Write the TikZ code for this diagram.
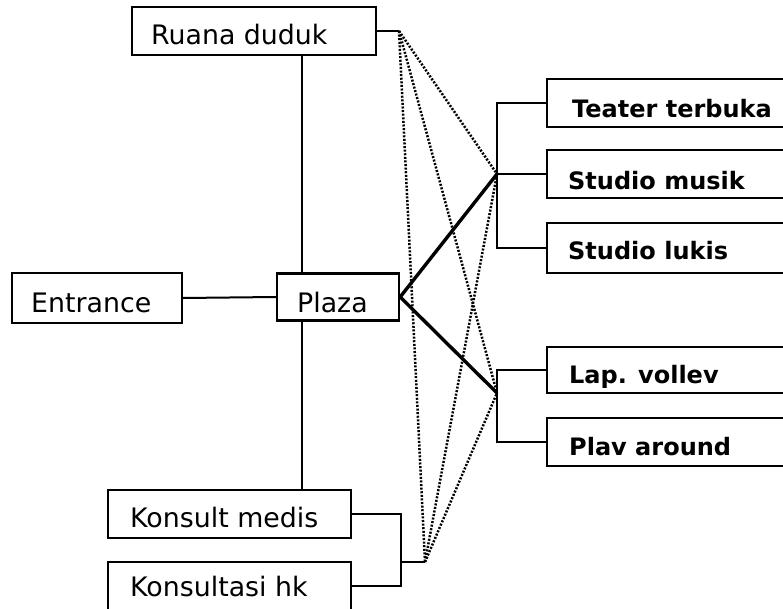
\documentclass[tikz,border=0pt]{standalone}
\usepackage{fontspec}
\setmainfont{DejaVu Sans}
\newfontfamily\boldlabel{DejaVu Sans Bold}
\begin{document}
\begin{tikzpicture}[x=1pt,y=-1pt,
  box/.style={draw=black, line width=2.3pt, rectangle, inner sep=0pt},
  rbox/.style={draw=black, line width=2.9pt, rectangle, inner sep=0pt},
  ltext/.style={anchor=base west, inner sep=0pt, font=\fontsize{26.8}{30}\selectfont},
  rtext/.style={anchor=base west, inner sep=0pt, font=\boldlabel\fontsize{24}{28}\selectfont},
  link/.style={draw=black, line width=2pt},
  rlink/.style={draw=black, line width=2.7pt},
  spoke/.style={draw=black, line width=3.4pt},
  dots/.style={draw=black, line width=2.5pt, dash pattern=on 2pt off 1.6pt}]
\clip (0,0) rectangle (783,609);
\fill[white] (0,0) rectangle (783,609);

% left column of spaces
\node[box, minimum width=244pt, minimum height=48pt] (ruang) at (254,31) {};
\node[ltext] (ruangT) at (151,45) {Ruana duduk};
\node[box, minimum width=170pt, minimum height=50pt] (entr) at (97,298) {};
\node[ltext] (entrT) at (31,312) {Entrance};
\node[box, minimum width=122pt, minimum height=47pt] (plaza) at (338,297) {};
\node[ltext] (plazaT) at (297,312) {Plaza};
\node[box, minimum width=243pt, minimum height=48pt] (medis) at (229.5,514) {};
\node[ltext] (medisT) at (130,527) {Konsult medis};
\node[box, minimum width=243pt, minimum height=48pt] (hukum) at (229.5,586) {};
\node[ltext] (hukumT) at (130,596) {Konsultasi hk};

% right column of spaces (boxes run past the right edge)
\node[rbox, minimum width=260pt, minimum height=48pt] (teater) at (677,103) {};
\node[rtext] (teaterT) at (572,118) {Teater terbuka};
\node[rbox, minimum width=260pt, minimum height=48pt] (musik) at (677,174) {};
\node[rtext] (musikT) at (568,190) {Studio musik};
\node[rbox, minimum width=260pt, minimum height=50pt] (lukis) at (677,248) {};
\node[rtext] (lukisT) at (568,260) {Studio lukis};
\node[rbox, minimum width=260pt, minimum height=46pt] (volley) at (677,370) {};
\node[rtext] (volleyT) at (569,383) {Lap. vollev};
\node[rbox, minimum width=260pt, minimum height=48pt] (play) at (677,442) {};
\node[rtext] (playT) at (569,455) {Plav around};

% junction points
\coordinate (spine) at (302,0);
\coordinate (A) at (399,31);
\coordinate (B) at (497,174);
\coordinate (C) at (497,393);
\coordinate (kj) at (401,562);
\coordinate (D) at (425,562);
\coordinate (tb) at (497,0);

% central spine
\draw[link] (ruang.south -| spine) -- (plaza.north -| spine);
\draw[link] (plaza.south -| spine) -- (medis.north -| spine);
\draw[link] (entr.east) -- (plaza.west);
\draw[link] (ruang.east) -- (A);

% bracket joining the two consultation rooms
\draw[link] (medis.east) -| (kj) |- (hukum.east);
\draw[link] (kj) -- (D);

% brackets of the right-hand groups
\draw[rlink] (teater.west) -| (tb |- lukis.west) -- (lukis.west);
\draw[rlink] (B) -- (musik.west);
\draw[rlink] (volley.west) -| (tb |- play.west) -- (play.west);

% main paths out of the plaza
\draw[spoke] (plaza.east) -- (B);
\draw[spoke] (plaza.east) -- (C);

% secondary (dotted) relations
\draw[dots] (A) -- (B);
\draw[dots] (A) -- (C);
\draw[dots] (A) -- (D);
\draw[dots] (D) -- (B);
\draw[dots] (D) -- (C);
\end{tikzpicture}
\end{document}
